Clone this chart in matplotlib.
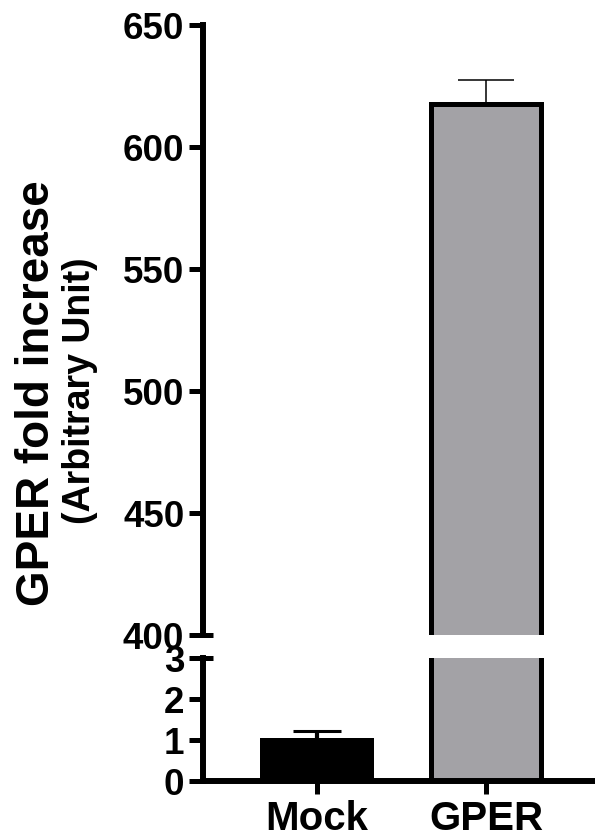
import matplotlib
matplotlib.use("Agg")
import matplotlib.pyplot as plt

categories = ["Mock", "GPER"]
values = [1.0, 617.6]
errors = [0.22, 9.9]
colors = ["#000000", "#a3a2a6"]
upper_ticks = [400, 450, 500, 550, 600, 650]
lower_ticks = [0, 1, 2, 3]

plt.rcParams['font.family'] = ['Liberation Sans', 'DejaVu Sans']
plt.rcParams['font.weight'] = 'bold'

W, H = 595, 838
fig = plt.figure(figsize=(W/100, H/100), dpi=100)

def rect(x0, y0, x1, y1):
    return [x0/W, 1 - y1/H, (x1-x0)/W, (y1-y0)/H]

ax_up = fig.add_axes(rect(203, 25, 595, 635))
ax_lo = fig.add_axes(rect(203, 658, 595, 781))

x = [0, 1]
xlim = (-0.670, 1.643)
spine_lw = 4.3
bar_lw = 3.6
elws = [3.0, 1.1]
cthk = [2.2, 1.1]
caps = [17, 20.5]

for ax in (ax_up, ax_lo):
    ax.bar(x, values, width=0.645, color=colors, edgecolor="black", linewidth=bar_lw, zorder=2)
    for i in range(len(x)):
        ax.errorbar(x[i], values[i], yerr=[[0], [errors[i]]], fmt="none", ecolor="black",
                    elinewidth=elws[i], capsize=caps[i], capthick=cthk[i], zorder=1)
    ax.set_xlim(*xlim)
    for s in ("top", "right"):
        ax.spines[s].set_visible(False)
    ax.spines["left"].set_linewidth(spine_lw)
    ax.spines["bottom"].set_linewidth(spine_lw)
    ax.tick_params(axis="y", width=3.6, length=10, labelsize=26.5, pad=3.5)

ax_up.set_ylim(400, 650)
ax_up.set_yticks(upper_ticks)
ax_up.spines["bottom"].set_visible(False)
ax_up.tick_params(axis="x", bottom=False, labelbottom=False)

ax_lo.set_ylim(0, 3)
ax_lo.set_yticks(lower_ticks)
ax_lo.set_xticks(x)
ax_lo.set_xticklabels(categories, fontsize=29, fontweight="bold")
ax_lo.tick_params(axis="x", width=3.6, length=9, pad=5)

# break marks crossing the axis
for ax, yy in ((ax_up, 0.0), (ax_lo, 1.0)):
    ax.plot([-0.021, 0.025], [yy, yy], transform=ax.transAxes, color="black",
            linewidth=3.6, clip_on=False, solid_capstyle="butt", zorder=5)

for ax in (ax_up, ax_lo):
    for lab in ax.get_yticklabels() + ax.get_xticklabels():
        lab.set_fontweight("bold")

fig.text(37/W, 1 - 393/H, "GPER fold increase", rotation=90, fontsize=33, fontweight="bold",
         ha="center", va="center")
fig.text(80/W, 1 - 391/H, "(Arbitrary Unit)", rotation=90, fontsize=27, fontweight="bold",
         ha="center", va="center")

fig.savefig("out.png", dpi=100)
